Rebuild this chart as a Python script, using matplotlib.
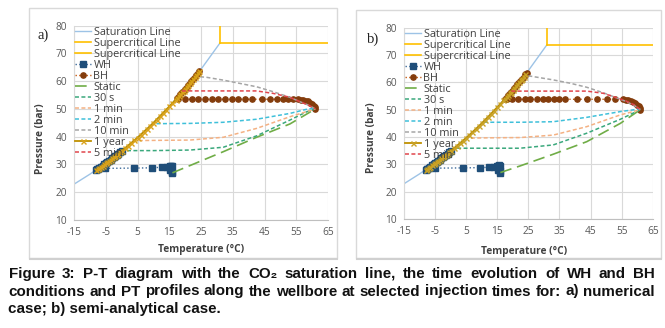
import matplotlib
matplotlib.use("Agg")
import matplotlib.pyplot as plt
from matplotlib.patches import Rectangle

# ---------------- data ----------------
SAT_T = [-15, -10, -5, 0, 5, 10, 15, 20, 25, 31]
SAT_P = [22.9, 26.5, 30.5, 34.9, 39.7, 45.0, 50.9, 57.3, 64.3, 73.8]
SC1_T = [31, 31]
SC1_P = [73.8, 80]
SC2_T = [31, 66]
SC2_P = [73.8, 73.8]

# 1 year profile (along saturation line)
YR_T = [-8, -7.5, -7, -6.5, -6, -5.5, -5, -4.5, -4, -3.5, -3, -2.5, -2, -1.5, -1, -0.5,
        0, 1, 2, 3, 4, 5, 6, 7, 8, 9, 10, 11, 12, 13, 14, 15, 16, 17, 17.5, 18, 18.5,
        19, 19.5, 20, 20.5, 21, 21.5, 22, 22.5, 23, 23.5, 24, 24.5]
YR_P = [28.0, 28.4, 28.8, 29.2, 29.6, 30.0, 30.5, 30.9, 31.3, 31.7, 32.2, 32.6, 33.0,
        33.5, 33.9, 34.4, 34.9, 35.8, 36.8, 37.7, 38.7, 39.7, 40.7, 41.8, 42.8, 43.9,
        45.0, 46.2, 47.3, 48.5, 49.7, 50.9, 52.1, 53.4, 54.0, 54.7, 55.3, 56.0, 56.6,
        57.3, 58.0, 58.7, 59.3, 60.0, 60.7, 61.4, 62.1, 62.9, 63.6]

# WH late-time points along saturation line
WHS_T = [-8, -7.5, -7, -6.5, -6, -5.5, -5, -4.5, -4, -3.5, -3, -2.5, -2, -1.5, -1, -0.5, 0]
WHS_P = [28.0, 28.4, 28.8, 29.2, 29.6, 30.0, 30.5, 30.9, 31.3, 31.7, 32.2, 32.6, 33.0,
         33.5, 33.9, 34.4, 34.9]
# BH late-time points along saturation line
BHS_T = [17.5, 18, 18.5, 19, 19.5, 20, 20.5, 21, 21.5, 22, 22.5, 23, 23.5, 24, 24.5]
BHS_P = [54.0, 54.7, 55.3, 56.0, 56.6, 57.3, 58.0, 58.7, 59.3, 60.0, 60.7, 61.4, 62.1,
         62.9, 63.6]

# ---- panel a) numerical case ----
A_WH_T = [16.0, 15.8, 15.3, 15.0, 15.6, 16.0, 15.2, 14.2, 12.6, 9.5, 3.8, -5.2, -7.8]
A_WH_P = [26.8, 27.4, 28.0, 29.2, 29.6, 29.4, 29.5, 29.1, 29.0, 28.8, 28.7, 28.6, 28.4]
A_BH_T = [61.0, 60.8, 60.5, 60.0, 59.4, 58.7, 58.0, 57.2, 56.4, 55.6, 54.1, 52.5, 50.9,
          48.8, 46.7, 44.1, 41.0, 38.9, 36.8, 34.7, 32.6, 30.5, 28.4, 26.3, 24.2, 22.1,
          20.0, 17.9]
A_BH_P = [50.0, 50.6, 51.2, 51.8, 52.3, 52.7, 53.0, 53.2, 53.4, 53.5, 53.5, 53.5, 53.5,
          53.5, 53.5, 53.5, 53.5, 53.5, 53.5, 53.5, 53.5, 53.5, 53.5, 53.5, 53.5, 53.5,
          53.5, 53.5]
A_STATIC_T = [16, 21.5, 32, 42.5, 53, 61]
A_STATIC_P = [27.0, 29.6, 34.6, 39.8, 44.6, 50.0]
A_30S_T = [1.7, 10, 21.5, 32, 42.5, 53, 58.3, 61]
A_30S_P = [35.0, 35.0, 35.2, 36.2, 40.3, 46.0, 49.0, 50.0]
A_1M_T = [3.4, 12, 21.5, 32, 42.5, 53, 61]
A_1M_P = [38.6, 38.7, 38.8, 39.8, 43.0, 47.2, 50.0]
A_2M_T = [11, 21.5, 32, 42.5, 53, 58.3, 61]
A_2M_P = [44.7, 44.8, 45.2, 46.3, 48.4, 49.9, 50.3]
A_10M_T = [24.7, 26.8, 32, 37.3, 42.5, 47.8, 53, 56.2, 59, 61]
A_10M_P = [61.6, 61.4, 60.4, 59.2, 58.0, 56.2, 54.2, 52.6, 51.3, 50.0]
A_5M_T = [19, 30, 42.5, 47.8, 53, 56.2, 59, 61]
A_5M_P = [56.5, 56.5, 56.5, 55.6, 54.2, 52.6, 51.3, 50.0]

# ---- panel b) semi-analytical case ----
B_WH_T = [16.0, 15.8, 15.3, 15.0, 15.6, 16.0, 15.2, 13.9, 12.3, 9.4, 4.1, -5.1, -7.7]
B_WH_P = [26.9, 27.4, 28.0, 29.3, 29.6, 29.4, 29.5, 29.0, 28.9, 28.8, 28.7, 28.6, 28.4]
B_BH_T = [61.0, 60.8, 60.5, 60.0, 59.4, 58.7, 58.0, 57.2, 56.4, 55.5, 52.9, 50.2, 47.0,
          43.8, 40.5, 36.8, 35.0, 33.2, 31.4, 29.6, 27.7, 25.5, 23.9, 21.8, 19.9, 18.0]
B_BH_P = [50.0, 50.6, 51.2, 51.8, 52.3, 52.8, 53.1, 53.4, 53.6, 53.8, 53.8, 53.8, 53.8,
          53.8, 53.8, 53.8, 53.8, 53.8, 53.8, 53.8, 53.8, 53.8, 53.8, 53.8, 53.8, 53.8]
B_STATIC_T = [16, 22.3, 33, 43.8, 54.6, 61]
B_STATIC_P = [27.0, 29.4, 33.7, 38.3, 45.0, 50.0]
B_30S_T = [2.1, 12, 22.3, 33, 43.8, 54.6, 61]
B_30S_P = [35.9, 35.9, 35.9, 37.1, 41.4, 46.5, 50.0]
B_1M_T = [6.5, 12, 22.3, 33, 43.8, 54.6, 61]
B_1M_P = [39.6, 39.7, 39.8, 40.7, 43.8, 48.1, 50.0]
B_2M_T = [10.7, 22.3, 33, 43.8, 54.6, 61]
B_2M_P = [45.4, 45.4, 45.6, 47.2, 49.3, 50.3]
B_10M_T = [25, 33, 38.4, 43.8, 49.1, 52.3, 56, 59, 61]
B_10M_P = [62.4, 60.9, 59.7, 58.2, 56.2, 54.8, 53.2, 51.6, 50.0]
B_5M_T = [19.5, 30, 43.8, 49.1, 52.3, 56, 59, 61]
B_5M_P = [56.8, 56.8, 56.8, 56.0, 54.8, 53.4, 51.8, 50.0]

X_TICKS = [-15, -5, 5, 15, 25, 35, 45, 55, 65]
Y_TICKS = [10, 20, 30, 40, 50, 60, 70, 80]

CAPTION = [
    "Figure 3: P-T diagram with the CO\u2082 saturation line, the time evolution of WH and BH",
    "conditions and PT profiles along the wellbore at selected injection times for: a) numerical",
    "case; b) semi-analytical case.",
]

# ---------------- drawing ----------------
W, H = 665, 328
fig = plt.figure(figsize=(W / 100, H / 100), dpi=100)
FONT = ["Open Sans", "DejaVu Sans"]


def fx(px):
    return px / W


def fy(py):
    return 1 - py / H


def box(x0, y0, x1, y1):
    fig.patches.append(Rectangle((fx(x0), fy(y1)), (x1 - x0) / W, (y1 - y0) / H,
                                 transform=fig.transFigure, fill=False,
                                 ec="#d9d9d9", lw=1.0, zorder=0))
    fig.lines.append(plt.Line2D([fx(x0 + 1), fx(x1)], [fy(y1 + 1), fy(y1 + 1)],
                                transform=fig.transFigure, color="#d0d0d0", lw=1.5))


box(29, 8, 337, 258)
box(356, 10, 661, 258)

DASH = (0, (2.6, 1.6))


def panel(rect, wh, bh, static, s30, m1, m2, m10, m5, yr, tag, tagpos, ylab_pos, xlab_pos):
    ax = fig.add_axes(rect)
    ax.set_xlim(-15, 65)
    ax.set_ylim(10, 80)
    ax.set_xticks(X_TICKS)
    ax.set_yticks(Y_TICKS)
    ax.set_xticklabels([str(t) for t in X_TICKS])
    ax.set_yticklabels([str(t) for t in Y_TICKS])
    ax.tick_params(length=0, labelsize=7.3, labelcolor="#595959", pad=5)
    for lab in ax.get_xticklabels() + ax.get_yticklabels():
        lab.set_family(FONT)
    ax.grid(True, color="#d9d9d9", lw=0.8)
    ax.set_axisbelow(True)
    for s in ax.spines.values():
        s.set_visible(False)
    ax.spines["bottom"].set_visible(True)
    ax.spines["bottom"].set_color("#bfbfbf")
    ax.spines["bottom"].set_linewidth(0.8)
    ax.spines["left"].set_visible(True)
    ax.spines["left"].set_color("#d9d9d9")
    ax.spines["left"].set_linewidth(0.8)

    ax.plot(SAT_T, SAT_P, color="#9dc3e6", lw=1.0, label="Saturation Line")
    ax.plot(SC1_T, SC1_P, color="#ffc000", lw=1.2, label="Supercritical Line")
    ax.plot(SC2_T, SC2_P, color="#ffc000", lw=1.2, label="Supercritical Line")
    ax.plot(list(wh[0]) + WHS_T, list(wh[1]) + WHS_P, color="#3d6a99", ls=":", lw=1.0,
            marker="s", ms=3.8, mfc="#1f4e79", mec="#1f4e79", label="WH")
    ax.plot(list(bh[0]) + BHS_T, list(bh[1]) + BHS_P, color="#c55a11", ls=":", lw=1.0,
            marker="o", ms=3.8, mfc="#843c0c", mec="#843c0c", label="BH")
    ax.plot(static[0], static[1], color="#70ad47", lw=1.2, ls=(0, (7, 3.5)), label="Static")
    ax.plot(s30[0], s30[1], color="#3aa87c", lw=1.1, ls=DASH, label="30 s")
    ax.plot(m1[0], m1[1], color="#f4b183", lw=1.1, ls=DASH, label="1 min")
    ax.plot(m2[0], m2[1], color="#3fc0da", lw=1.1, ls=DASH, label="2 min")
    ax.plot(m10[0], m10[1], color="#a5a5a5", lw=1.1, ls=DASH, label="10 min")
    ax.plot(yr[0], yr[1], color="#bf9000", lw=1.3, marker="x", ms=3.6, mec=yr[2],
            mew=1.0, label="1 year")
    ax.plot(m5[0], m5[1], color="#e0454b", lw=1.1, ls=DASH, label="5 min")

    leg = ax.legend(loc="upper left", bbox_to_anchor=(0.0, 1.0), frameon=False,
                    labelspacing=0.0, handlelength=1.45, handleheight=0.5,
                    handletextpad=0.25, borderaxespad=0.1, borderpad=0.0,
                    prop={"family": FONT, "size": 7.8})
    for t in leg.get_texts():
        t.set_color("#404040")

    fig.text(fx(tagpos[0]), fy(tagpos[1]), tag, family=["Liberation Serif"], fontsize=10.5,
             ha="center", va="center", color="#222222")
    fig.text(fx(ylab_pos[0]), fy(ylab_pos[1]), "Pressure (bar)", rotation=90,
             family=FONT, fontsize=7.3, fontweight="bold", ha="center", va="center",
             color="#404040")
    fig.text(fx(xlab_pos[0]), fy(xlab_pos[1]), "Temperature (\u00b0C)",
             family=FONT, fontsize=7.3, fontweight="bold", ha="center", va="center",
             color="#404040")
    return ax


panel([fx(74), fy(220), (328 - 74) / W, (220 - 25.7) / H],
      (A_WH_T, A_WH_P), (A_BH_T, A_BH_P), (A_STATIC_T, A_STATIC_P),
      (A_30S_T, A_30S_P), (A_1M_T, A_1M_P), (A_2M_T, A_2M_P), (A_10M_T, A_10M_P),
      (A_5M_T, A_5M_P), (YR_T, YR_P, "#d9a21b"), "a)", (43, 35), (40, 139), (201, 249))
panel([fx(404), fy(219), (652.7 - 404) / W, (219 - 27.7) / H],
      (B_WH_T, B_WH_P), (B_BH_T, B_BH_P), (B_STATIC_T, B_STATIC_P),
      (B_30S_T, B_30S_P), (B_1M_T, B_1M_P), (B_2M_T, B_2M_P), (B_10M_T, B_10M_P),
      (B_5M_T, B_5M_P), (YR_T[:-1], YR_P[:-1], "#c9a227"), "b)", (373, 39), (372, 138),
      (524, 251))

# ---------------- justified caption ----------------
CAP_FONT = ["Liberation Sans", "DejaVu Sans"]
CAP_SIZE = 10.9
X0, X1 = 8.5, 655
BASELINES = [278, 295.5, 313]
renderer = fig.canvas.get_renderer()
for i, line in enumerate(CAPTION):
    if i == len(CAPTION) - 1:
        fig.text(fx(X0), fy(BASELINES[i]), line, family=CAP_FONT, fontsize=CAP_SIZE,
                 fontweight="bold", ha="left", va="baseline", color="#111111")
        continue
    words = line.split(" ")
    texts = [fig.text(0, fy(BASELINES[i]), w, family=CAP_FONT, fontsize=CAP_SIZE,
                      fontweight="bold", ha="left", va="baseline", color="#111111")
             for w in words]
    widths = [t.get_window_extent(renderer).width for t in texts]
    gap = (X1 - X0 - sum(widths)) / (len(words) - 1)
    x = X0
    for t, w in zip(texts, widths):
        t.set_x(fx(x))
        x += w + gap

fig.savefig("out.png", dpi=100)
